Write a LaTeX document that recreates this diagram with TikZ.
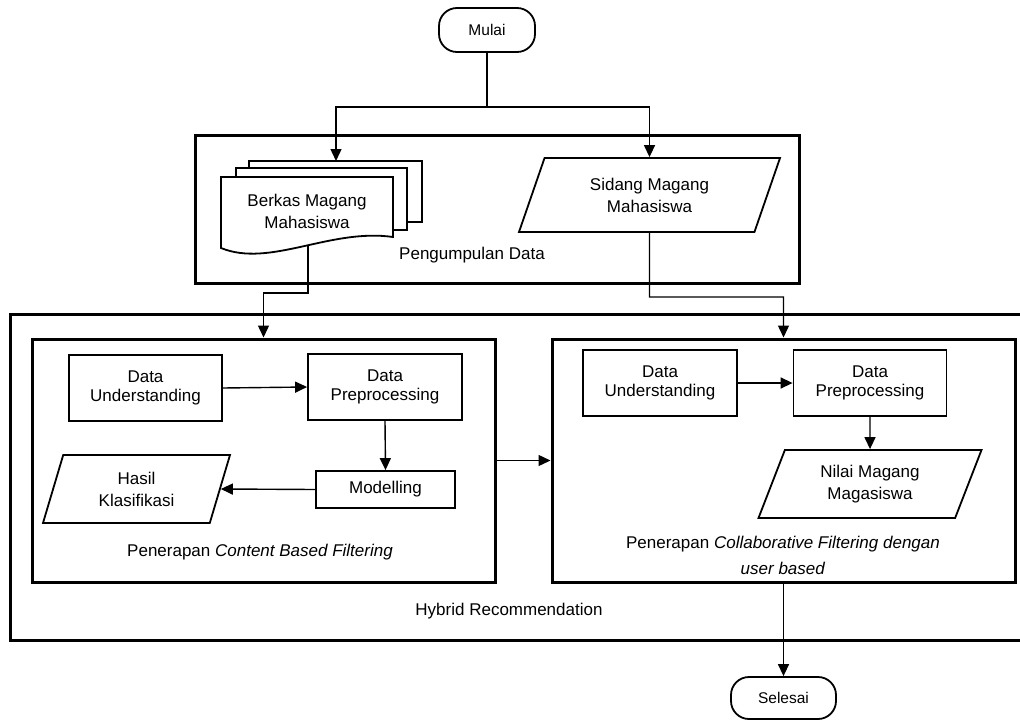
\documentclass[tikz,border=0pt]{standalone}
\usepackage{fontspec}
\setmainfont{Liberation Sans}
\usetikzlibrary{arrows.meta,shapes.geometric}
\begin{document}
\begin{tikzpicture}[x=1pt,y=-1pt,
  every node/.style={font=\fontsize{17}{18}\selectfont, align=center, inner sep=1pt},
  container/.style={draw, line width=3pt},
  box/.style={draw, line width=1.8pt, font=\fontsize{17}{18.5}\selectfont},
  term/.style={draw, line width=1.8pt, rounded corners=18pt, font=\fontsize{15.5}{18}\selectfont},
  para/.style={draw, line width=1.8pt, shape=trapezium, trapezium stretches body, font=\fontsize{17}{22}\selectfont},
  docshape/.style={draw, line width=1.8pt, fill=white},
  conn/.style={line width=1.4pt},
  arr/.style={line width=1.4pt, -{Triangle[length=12pt,width=11pt]}}
]
\useasboundingbox (0,0) rectangle (1020,720);
\clip (0,0) rectangle (1020,720);

% containers
\node[container, minimum width=604pt, minimum height=148pt] (pd) at (497,209) {};
\node (pdlabel) at (472,255) {Pengumpulan Data};
\node[container, anchor=north west, minimum width=1040pt, minimum height=326pt] (hyb) at (9,313) {};
\node (hyblabel) at (509,611) {Hybrid Recommendation};
\node[container, minimum width=463pt, minimum height=243pt] (cbf) at (263.5,460.5) {};
\node[container, minimum width=463pt, minimum height=243pt] (cf) at (783.5,460.5) {};
\node (cbflabel) at (260,552) {Penerapan \textit{Content Based Filtering}};
\node[font=\fontsize{17}{26}\selectfont] (cflabel) at (783,555) {Penerapan \textit{Collaborative Filtering dengan}\\\textit{user based}};

% terminators
\node[term, minimum width=96pt, minimum height=44pt] (mulai) at (487,30) {Mulai};
\node[term, minimum width=105pt, minimum height=42pt] (selesai) at (783.5,698) {Selesai};

% multi document
\draw[docshape] (249,161) rectangle (422,222);
\draw[docshape] (236,168) rectangle (407,230);
\draw[docshape] (221,177) -- (393,177) -- (393,237) .. controls (330,228) and (270,268) .. (221,248) -- cycle;
\node[font=\fontsize{17}{22}\selectfont] (berkas) at (307,211) {Berkas Magang\\Mahasiswa};
\coordinate (bktop) at (336,161);
\coordinate (bkbot) at (308,245);

% input/output
\node[para, trapezium left angle=55, trapezium right angle=125, minimum width=261pt, minimum height=74pt] (sidang) at (649.5,195) {Sidang Magang\\Mahasiswa};
\node[para, trapezium left angle=61, trapezium right angle=119, minimum width=187pt, minimum height=68pt] (hasil) at (136.5,489) {Hasil\\Klasifikasi};
\node[para, trapezium left angle=56.5, trapezium right angle=123.5, minimum width=223pt, minimum height=68pt] (nilai) at (870,484) {Nilai Magang\\Magasiswa};

% process boxes
\node[box, minimum width=153pt, minimum height=66pt] (du1) at (145.5,388) {Data\\Understanding};
\node[box, minimum width=154pt, minimum height=66pt] (dp1) at (385,387) {Data\\Preprocessing};
\node[box, minimum width=139pt, minimum height=37pt] (mod) at (385.5,489.5) {Modelling};
\node[box, minimum width=154pt, minimum height=66pt] (du2) at (660,383) {Data\\Understanding};
\node[box, minimum width=153pt, minimum height=66pt] (dp2) at (870,383) {Data\\Preprocessing};

% connectors
\coordinate (split) at (487,107);
\draw[conn] (mulai.south) -- (split);
\draw[arr] (split) -| (bktop);
\draw[arr] (split) -| (sidang.north);
\draw[arr] (bkbot) -- (308,293) -| (cbf.north);
\draw[arr] (sidang.south) -- (649.5,297) -| (cf.north);
\draw[arr] (du1.east) -- (dp1.west);
\draw[arr] (dp1.south) -- (mod.north);
\draw[arr] (mod.west) -- (hasil.east);
\draw[arr] (du2.east) -- (dp2.west);
\draw[arr] (dp2.south) -- (nilai.north);
\draw[arr] (cbf.east) -- (cf.west);
\draw[arr] (cf.south) -- (selesai.north);
\end{tikzpicture}
\end{document}
